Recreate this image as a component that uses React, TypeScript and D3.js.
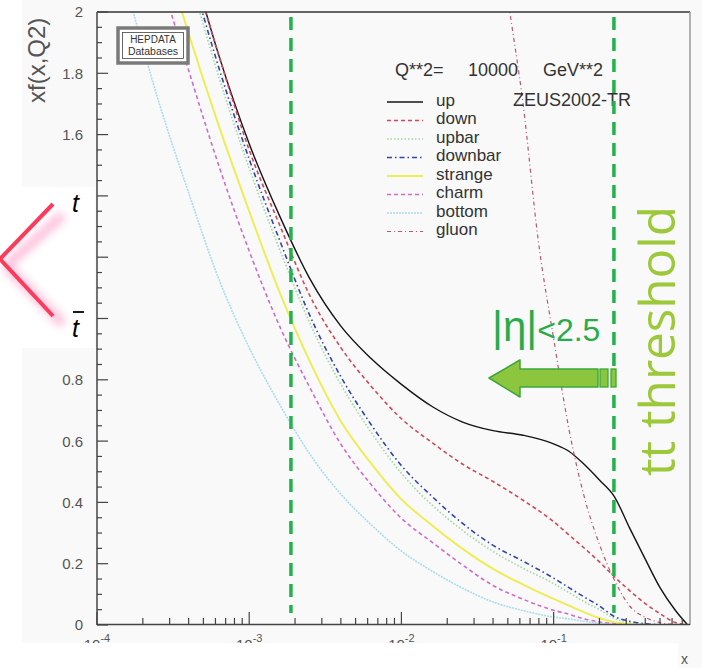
import React from 'react';
import * as d3 from 'd3';

// Parton densities xf(x, Q^2) at Q^2 = 10000 GeV^2 (ZEUS2002-TR), shared x grid
const xGrid = [0.00016, 0.00025, 0.0004, 0.00063, 0.001, 0.0016, 0.0025, 0.004, 0.0063, 0.01, 0.016, 0.025, 0.04, 0.063, 0.1, 0.126, 0.158, 0.2, 0.25, 0.316, 0.4, 0.5, 0.63, 0.76];

const upVals = [3.0, 2.58, 2.2, 1.86, 1.57, 1.33, 1.13, 0.975, 0.87, 0.785, 0.712, 0.663, 0.634, 0.619, 0.591, 0.567, 0.525, 0.473, 0.42, 0.316, 0.215, 0.122, 0.048, 0.0];
const downVals = [3.0, 2.57, 2.19, 1.86, 1.55, 1.3, 1.075, 0.905, 0.78, 0.673, 0.594, 0.526, 0.468, 0.407, 0.337, 0.294, 0.252, 0.206, 0.158, 0.112, 0.07, 0.037, 0.008, 0.0];
const upbarVals = [2.95, 2.52, 2.13, 1.79, 1.49, 1.22, 0.985, 0.785, 0.63, 0.495, 0.39, 0.31, 0.24, 0.185, 0.135, 0.106, 0.077, 0.05, 0.022, 0.008, 0.002, 0.0, 0.0, 0.0];
const downbarVals = [2.97, 2.55, 2.16, 1.82, 1.52, 1.25, 1.01, 0.81, 0.655, 0.52, 0.418, 0.333, 0.26, 0.208, 0.153, 0.122, 0.092, 0.062, 0.028, 0.012, 0.004, 0.001, 0.0, 0.0];
const strangeVals = [2.65, 2.27, 1.93, 1.63, 1.35, 1.08, 0.86, 0.665, 0.528, 0.41, 0.324, 0.25, 0.183, 0.132, 0.085, 0.063, 0.042, 0.022, 0.009, 0.003, 0.0, 0.0, 0.0, 0.0];
const charmVals = [2.52, 2.15, 1.81, 1.5, 1.22, 0.97, 0.775, 0.59, 0.459, 0.348, 0.269, 0.197, 0.129, 0.084, 0.048, 0.035, 0.02, 0.01, 0.004, 0.0, 0.0, 0.0, 0.0, 0.0];
const bottomVals = [2.06, 1.72, 1.41, 1.13, 0.905, 0.716, 0.558, 0.427, 0.328, 0.241, 0.175, 0.121, 0.075, 0.047, 0.026, 0.02, 0.012, 0.006, 0.002, 0.0, 0.0, 0.0, 0.0, 0.0];

// Gluon only enters the visible range at large x
const gluonX = [0.04, 0.05, 0.063, 0.079, 0.1, 0.126, 0.158, 0.2, 0.25, 0.316, 0.4, 0.5, 0.63, 0.76];
const gluonVals = [2.45, 2.05, 1.7, 1.26, 0.935, 0.64, 0.423, 0.263, 0.148, 0.062, 0.025, 0.008, 0.002, 0.0];

const xDecades = [1e-4, 1e-3, 1e-2, 1e-1];
const xDecadeExp = ['-4', '-3', '-2', '-1'];
const yTickLabels = ['0', '0.2', '0.4', '0.6', '0.8', '1.6', '1.8', '2'];
const thresholdX = [0.00188, 0.249];

type Series = { name: string; xs: number[]; vals: number[]; color: string; dash?: string; width: number };

const series: Series[] = [
  { name: 'up', xs: xGrid, vals: upVals, color: '#141414', width: 1.4 },
  { name: 'down', xs: xGrid, vals: downVals, color: '#cc4a5a', dash: '4,3', width: 1.6 },
  { name: 'upbar', xs: xGrid, vals: upbarVals, color: '#9fd79f', dash: '1.5,2', width: 1.6 },
  { name: 'downbar', xs: xGrid, vals: downbarVals, color: '#3445a8', dash: '5,3,1.5,3', width: 1.6 },
  { name: 'strange', xs: xGrid, vals: strangeVals, color: '#eded55', width: 2 },
  { name: 'charm', xs: xGrid, vals: charmVals, color: '#cf6ccf', dash: '4,3', width: 1.6 },
  { name: 'bottom', xs: xGrid, vals: bottomVals, color: '#aadcee', dash: '2,1', width: 1.6 },
  { name: 'gluon', xs: gluonX, vals: gluonVals, color: '#b85a6c', dash: '4,3,1,3', width: 1.2 },
];

const FONT = '"Liberation Sans", Arial, sans-serif';

export default function App() {
  const x = d3.scaleLog().domain([1e-4, 0.787]).range([97, 690]);
  const y = d3.scaleLinear().domain([0, 2]).range([625, 12]);
  const line = d3
    .line<[number, number]>()
    .x((d) => x(d[0]))
    .y((d) => y(d[1]))
    .curve(d3.curveMonotoneX);

  const yMinor = d3.range(0, 41).map((i) => i * 0.05);
  const xMinor = x.ticks().filter((t) => t < 0.787);

  const legendTop = 100.5;
  const legendStep = 18.5;

  return (
    <svg
      width={702}
      height={668}
      viewBox="0 0 702 668"
      style={{ position: 'absolute', left: 0, top: 0, display: 'block' }}
    >
      <defs>
        <clipPath id="plotArea">
          <rect x={97} y={12} width={593} height={613} />
        </clipPath>
        <filter id="haze" x="-50%" y="-50%" width="200%" height="200%">
          <feGaussianBlur stdDeviation={4} />
        </filter>
      </defs>

      <rect x={0} y={0} width={702} height={668} fill="#ffffff" />
      <rect x={22} y={0} width={680} height={668} fill="#f9f9f9" />

      {/* curves */}
      <g clipPath="url(#plotArea)">
        {series.map((s) => (
          <path
            key={s.name}
            d={line(s.xs.map((v, i) => [v, s.vals[i]] as [number, number])) || ''}
            fill="none"
            stroke={s.color}
            strokeWidth={s.width}
            strokeDasharray={s.dash}
          />
        ))}
      </g>

      {/* frame */}
      <line x1={97} x2={690} y1={12} y2={12} stroke="#333" strokeWidth={1.5} />
      <line x1={690} x2={690} y1={12} y2={625} stroke="#999" strokeWidth={1.5} />
      <line x1={97} x2={97} y1={12} y2={625} stroke="#444" strokeWidth={1.5} />
      <line x1={97} x2={690} y1={624.5} y2={624.5} stroke="#444" strokeWidth={1.5} />

      {/* y ticks */}
      {yMinor.map((v, i) => (
        <line
          key={'ym' + i}
          x1={97}
          x2={i % 4 === 0 ? 108 : 102}
          y1={y(v)}
          y2={y(v)}
          stroke="#444"
          strokeWidth={1.2}
        />
      ))}
      {yTickLabels.map((t) => (
        <text
          key={'yl' + t}
          x={83}
          y={y(+t)}
          dy="0.36em"
          textAnchor="end"
          fontSize={15}
          fontFamily={FONT}
          fill="#555"
        >
          {t}
        </text>
      ))}

      {/* x ticks */}
      {xMinor.map((v, i) => {
        const major = xDecades.some((d) => Math.abs(d - v) / d < 1e-6);
        return (
          <line
            key={'xm' + i}
            x1={x(v)}
            x2={x(v)}
            y1={624.5}
            y2={major ? 612 : 618}
            stroke="#444"
            strokeWidth={1.2}
          />
        );
      })}
      {xDecades.map((d, i) => (
        <text key={'xl' + i} x={x(d)} y={650} textAnchor="middle" fontSize={15} fontFamily={FONT} fill="#555">
          10
          <tspan dy={-8} fontSize={11}>
            {xDecadeExp[i]}
          </tspan>
        </text>
      ))}
      {/* lower edge of the figure cuts through the decade labels */}
      <rect x={0} y={643} width={678} height={25} fill="#ffffff" />
      <text x={681} y={664} fontSize={14} fontFamily={FONT} fill="#555">
        x
      </text>

      {/* y title */}
      <text transform="translate(45,103) rotate(-90)" fontSize={24} fontFamily={FONT} fill="#555">
        xf(x,Q2)
      </text>

      {/* HEPDATA badge */}
      <rect x={118} y={28} width={70} height={35} fill="#fff" stroke="#7a7a7a" strokeWidth={3.5} />
      <rect x={122.5} y={32.5} width={61} height={26} fill="none" stroke="#444" strokeWidth={0.8} />
      <text x={153} y={43} textAnchor="middle" fontSize={10} fontFamily={FONT} fill="#333">
        HEPDATA
      </text>
      <text x={153} y={55} textAnchor="middle" fontSize={10.5} fontFamily={FONT} fill="#333">
        Databases
      </text>

      {/* header and legend */}
      <g fontFamily={FONT} fill="#333">
        <text x={395} y={76} fontSize={18}>Q**2=</text>
        <text x={468} y={76} fontSize={18}>10000</text>
        <text x={543} y={76} fontSize={18}>GeV**2</text>
        <text x={513} y={106} fontSize={18}>ZEUS2002-TR</text>
      </g>
      {series.map((s, i) => {
        const cy = legendTop + i * legendStep;
        return (
          <g key={'lg' + s.name}>
            <line
              x1={387}
              x2={423}
              y1={cy + 1.5}
              y2={cy + 1.5}
              stroke={s.color}
              strokeWidth={s.width}
              strokeDasharray={s.dash}
            />
            <text x={436} y={cy + 5} fontSize={17} fontFamily={FONT} fill="#333">
              {s.name}
            </text>
          </g>
        );
      })}

      {/* t tbar production sketch */}
      <rect x={0} y={187} width={95} height={161} fill="#ffffff" />
      <g filter="url(#haze)" opacity={0.6}>
        <polyline points="6,266 63,215" fill="none" stroke="#ff8fbf" strokeWidth={9} />
        <polyline points="6,266 63,324" fill="none" stroke="#ff8fbf" strokeWidth={9} />
      </g>
      <polyline points="53,204 0,259 53,316" fill="none" stroke="#fc3a5a" strokeWidth={4} />
      <text x={72} y={212} fontSize={25} fontStyle="italic" fontFamily={FONT} fill="#000">
        t
      </text>
      <text x={72} y={337} fontSize={25} fontStyle="italic" fontFamily={FONT} fill="#000">
        t
      </text>
      <line x1={73} x2={84} y1={312} y2={312} stroke="#000" strokeWidth={1.8} />

      {/* acceptance boundaries */}
      {thresholdX.map((v, i) => (
        <line
          key={'th' + i}
          x1={x(v)}
          x2={x(v)}
          y1={17}
          y2={613}
          stroke="#22b24c"
          strokeWidth={3.5}
          strokeDasharray="13,8"
        />
      ))}

      {/* |eta| arrow */}
      <polygon
        points="489,378 520,360 520,369 598,369 598,387 520,387 520,397"
        fill="#8cc63f"
        stroke="#3aa83a"
        strokeWidth={1.5}
        strokeLinejoin="round"
      />
      <rect x={600} y={369} width={8} height={18} fill="#8cc63f" stroke="#3aa83a" strokeWidth={1.3} />
      <rect x={611} y={369} width={5} height={18} fill="#8cc63f" stroke="#3aa83a" strokeWidth={1.3} />
      <text x={492} y={341} fontFamily={FONT} fill="#2aab4a">
        <tspan fontSize={42}>|η|</tspan>
        <tspan fontSize={32}>{'<2.5'}</tspan>
      </text>

      <text
        transform="translate(675,476) rotate(-90)"
        fontSize={50}
        fontFamily='"Open Sans", sans-serif'
        fill="#9cc83a"
        textLength={270}
        lengthAdjust="spacingAndGlyphs"
      >
        tt threshold
      </text>
    </svg>
  );
}
